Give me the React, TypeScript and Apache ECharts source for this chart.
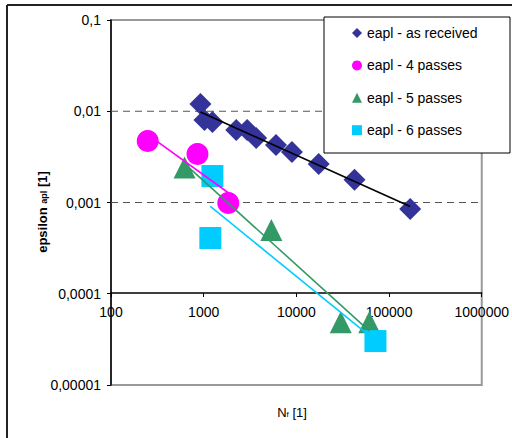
import React, { useEffect, useRef } from "react";
import * as echarts from "echarts";

const seriesNames = ["eapl - as received", "eapl - 4 passes", "eapl - 5 passes", "eapl - 6 passes"];

const nAsReceived = [923, 1019, 1242, 2244, 2944, 3681, 6026, 8954, 17420, 42360, 169000];
const epsAsReceived = [0.012, 0.00802, 0.00762, 0.00623, 0.00623, 0.00509, 0.00427, 0.00357, 0.00264, 0.00177, 0.00085];

const n4 = [249, 857, 1841];
const eps4 = [0.00472, 0.0034, 0.000988];

const n5 = [622, 5370, 30100, 61100];
const eps5 = [0.00242, 0.0005, 0.0000488, 0.0000488];

const n6 = [1242, 1180, 71300];
const eps6 = [0.00195, 0.000408, 0.0000303];

const xTicks = [100, 1000, 10000, 100000, 1000000];
const yTickLabels = ["0,00001", "0,0001", "0,001", "0,01", "0,1"];
const dashedGridValues = [0.01, 0.001];

const colors = ["#333399", "#FF00FF", "#339966", "#00CCFF"];
const lineColors = ["#000000", "#FF00FF", "#339966", "#00CCFF"];
const symbols = ["diamond", "circle", "triangle", "rect"];

function pairs(xs: number[], ys: number[]) {
  return xs.map((x, i) => [x, ys[i]]);
}

function powerFit(xs: number[], ys: number[]) {
  const lx = xs.map((v) => Math.log10(v));
  const ly = ys.map((v) => Math.log10(v));
  const n = lx.length;
  const mx = lx.reduce((a, b) => a + b, 0) / n;
  const my = ly.reduce((a, b) => a + b, 0) / n;
  let sxy = 0;
  let sxx = 0;
  for (let i = 0; i < n; i++) {
    sxy += (lx[i] - mx) * (ly[i] - my);
    sxx += (lx[i] - mx) * (lx[i] - mx);
  }
  const b = sxy / sxx;
  const a = my - b * mx;
  const xmin = Math.min(...xs);
  const xmax = Math.max(...xs);
  return [xmin, xmax].map((x) => [x, Math.pow(10, a + b * Math.log10(x))]);
}

const FONT = 'Arial, "Liberation Sans", sans-serif';

export default function App() {
  const ref = useRef<HTMLDivElement>(null);
  useEffect(() => {
    document.body.style.margin = "0";
    if (!ref.current) return;
    const chart = echarts.init(ref.current, undefined, { renderer: "svg" });
    const data = [
      pairs(nAsReceived, epsAsReceived),
      pairs(n4, eps4),
      pairs(n5, eps5),
      pairs(n6, eps6),
    ];
    const fits = [
      powerFit(nAsReceived, epsAsReceived),
      powerFit(n4, eps4),
      powerFit(n5, eps5),
      powerFit(n6, eps6),
    ];
    const gridLines: any[] = dashedGridValues.map((v, i) => ({
      name: "grid" + i,
      type: "line",
      data: [
        [xTicks[0], v],
        [xTicks[xTicks.length - 1], v],
      ],
      showSymbol: false,
      symbol: "none",
      silent: true,
      lineStyle: { color: "#555555", type: [7, 5], width: 1 },
      z: 1,
    }));
    const scatter: any[] = data.map((d, i) => ({
      name: seriesNames[i],
      type: "scatter",
      data: d,
      symbol: symbols[i],
      symbolSize: 22,
      itemStyle: { color: colors[i], opacity: 1 },
      z: 2,
    }));
    const lines: any[] = fits.map((f, i) => ({
      name: "fit" + i,
      type: "line",
      data: f,
      showSymbol: false,
      symbol: "none",
      lineStyle: { color: lineColors[i], width: 1.6 },
      z: 3,
      silent: true,
    }));
    chart.setOption({
      animation: false,
      backgroundColor: "#ffffff",
      textStyle: { fontFamily: FONT },
      grid: {
        left: 111,
        top: 20,
        right: 28,
        bottom: 53,
        show: true,
        borderColor: "#999999",
        borderWidth: 2,
        backgroundColor: "transparent",
      },
      xAxis: {
        type: "log",
        logBase: 10,
        min: xTicks[0],
        max: xTicks[xTicks.length - 1],
        position: "bottom",
        offset: -92,
        axisLine: { show: true, lineStyle: { color: "#000", width: 1.5 } },
        axisTick: { show: true, length: 4, lineStyle: { color: "#000" } },
        splitLine: { show: false },
        minorTick: { show: false },
        axisLabel: {
          fontSize: 14,
          color: "#000",
          margin: 12,
          fontFamily: FONT,
          showMinLabel: true,
          showMaxLabel: true,
          formatter: (v: number) => String(Math.round(v)),
        },
      },
      yAxis: {
        type: "log",
        logBase: 10,
        min: 0.00001,
        max: 0.1,
        axisLine: { show: true, lineStyle: { color: "#000", width: 1.5 } },
        axisTick: { show: true, length: 4, lineStyle: { color: "#000" } },
        splitLine: { show: false },
        axisLabel: {
          fontSize: 14,
          color: "#000",
          margin: 10,
          fontFamily: FONT,
          formatter: (v: number) => {
            const e = Math.round(Math.log10(v));
            return yTickLabels[e + 5] ?? String(v);
          },
        },
      },
      legend: {
        data: seriesNames,
        orient: "vertical",
        left: 352,
        top: 26,
        padding: 0,
        itemWidth: 10,
        itemHeight: 10,
        itemGap: 18.4,
        itemStyle: { borderWidth: 0 },
        textStyle: { fontSize: 14, color: "#000", fontFamily: FONT, lineHeight: 14 },
        z: 6,
      },
      graphic: [
        {
          type: "line",
          shape: { x1: 7, y1: 5, x2: 520, y2: 5 },
          style: { stroke: "#222", lineWidth: 2 },
          z: 1,
        },
        {
          type: "line",
          shape: { x1: 7, y1: 5, x2: 7, y2: 450 },
          style: { stroke: "#222", lineWidth: 2 },
          z: 1,
        },
        {
          type: "rect",
          shape: { x: 324, y: 17, width: 186, height: 136 },
          style: { fill: "#ffffff", stroke: "#000", lineWidth: 1 },
          z: 5,
        },
        {
          type: "text",
          x: 42,
          y: 212,
          rotation: Math.PI / 2,
          style: {
            text: "{a|epsilon }{s|apl}{a| [1]}",
            align: "center",
            verticalAlign: "middle",
            rich: {
              a: { fontSize: 13, fontWeight: "bold", fontFamily: FONT, fill: "#000" },
              s: { fontSize: 9, fontWeight: "bold", fontFamily: FONT, fill: "#000", padding: [4, 0, 0, 0] },
            },
          },
          z: 5,
        },
        {
          type: "text",
          x: 292,
          y: 412,
          style: {
            text: "{a|N}{s|f}{a| [1]}",
            align: "center",
            verticalAlign: "middle",
            rich: {
              a: { fontSize: 13, fontFamily: FONT, fill: "#000" },
              s: { fontSize: 8, fontFamily: FONT, fill: "#000", padding: [4, 0, 0, 0] },
            },
          },
          z: 5,
        },
      ],
      series: [...gridLines, ...scatter, ...lines],
    });
    return () => chart.dispose();
  }, []);
  return <div ref={ref} style={{ width: 512, height: 438 }} />;
}
